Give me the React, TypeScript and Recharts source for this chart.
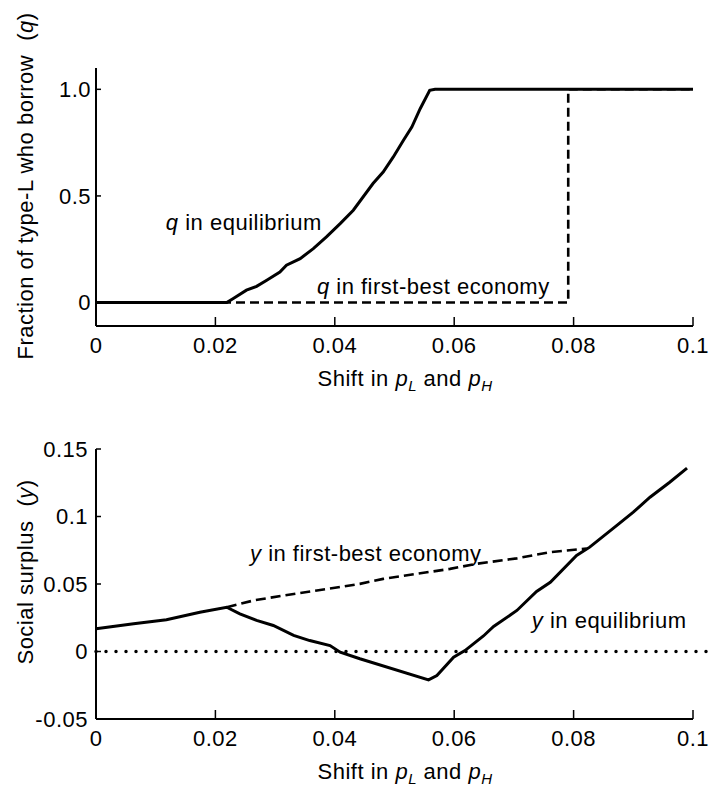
import { LineChart, Line, XAxis, YAxis, ReferenceLine, ReferenceDot, Label } from 'recharts';

const FONT = '"Liberation Sans", Arial, Helvetica, sans-serif';
const FS = 22;

// shared x axis
const xTicks = [0, 0.02, 0.04, 0.06, 0.08, 0.1];
const xTickLabels = ['0', '0.02', '0.04', '0.06', '0.08', '0.1'];

// top panel: fraction of type-L who borrow (q)
const qTicks = [0, 0.5, 1];
const qTickLabels = ['0', '0.5', '1.0'];
const qEqX = [0, 0.0219, 0.023, 0.0252, 0.0269, 0.0286, 0.0308, 0.0319, 0.0342, 0.0364, 0.0386, 0.0409, 0.0431, 0.0464, 0.0481, 0.0498, 0.0515, 0.0529, 0.0543, 0.0559, 0.0568, 0.1];
const qEqY = [0, 0, 0.019, 0.058, 0.076, 0.105, 0.143, 0.175, 0.206, 0.253, 0.308, 0.37, 0.433, 0.558, 0.612, 0.683, 0.761, 0.823, 0.909, 0.995, 1, 1];
const qFbX = [0, 0.0791, 0.0791, 0.1];
const qFbY = [0, 0, 1, 1];

// bottom panel: social surplus (y)
const sTicks = [-0.05, 0, 0.05, 0.1, 0.15];
const sTickLabels = ['-0.05', '0', '0.05', '0.1', '0.15'];
const sEqX = [0, 0.0063, 0.0118, 0.0174, 0.0219, 0.0241, 0.0269, 0.0297, 0.0331, 0.0358, 0.0392, 0.0409, 0.0442, 0.0557, 0.0571, 0.0599, 0.0618, 0.0649, 0.0666, 0.0705, 0.0738, 0.0761, 0.0805, 0.0827, 0.0872, 0.09, 0.0928, 0.0961, 0.099];
const sEqY = [0.0168, 0.0205, 0.0235, 0.0291, 0.0328, 0.0279, 0.023, 0.0193, 0.0119, 0.0081, 0.0044, -0.0005, -0.0054, -0.021, -0.0178, -0.0042, 0.0007, 0.0115, 0.0185, 0.0304, 0.0445, 0.0513, 0.0711, 0.0773, 0.0933, 0.1032, 0.1143, 0.1254, 0.1358];
const sFbX = [0.0219, 0.0264, 0.0314, 0.037, 0.0442, 0.0481, 0.0537, 0.0593, 0.0638, 0.0705, 0.076, 0.0822];
const sFbY = [0.0328, 0.0378, 0.0415, 0.0452, 0.0501, 0.0538, 0.0575, 0.0612, 0.065, 0.069, 0.0736, 0.0762];
const zeroX = [0, 0.1035];

const toPts = (xs: number[], ys: number[]) => xs.map((x, i) => ({ x, y: ys[i] }));

const X_GAP = 11;

function makeXTick() {
  return (props: any) => {
    const { x, y, index } = props;
    const axisY = y - X_GAP;
    return (
      <g>
        <line x1={x} x2={x} y1={axisY} y2={axisY - 9} stroke="#000" strokeWidth={1.5} />
        <text x={x} y={y} dy="0.72em" textAnchor="middle" fontSize={FS} fontFamily={FONT} letterSpacing={0.5} fill="#000">
          {xTickLabels[index]}
        </text>
      </g>
    );
  };
}

function makeYTick(labels: string[], gap: number) {
  return (props: any) => {
    const { x, y, index } = props;
    const axisX = x + gap;
    return (
      <g>
        <line x1={axisX} x2={axisX + 5} y1={y} y2={y} stroke="#000" strokeWidth={1.5} />
        <text x={x} y={y} dy="0.36em" textAnchor="end" fontSize={FS} fontFamily={FONT} letterSpacing={0.5} fill="#000">
          {labels[index]}
        </text>
      </g>
    );
  };
}

const XTitle = ({ y }: { y: number }) => (
  <text x={405} y={y} textAnchor="middle" fontSize={FS} fontFamily={FONT} letterSpacing={0.5} fill="#000">
    {'Shift in '}
    <tspan fontStyle="italic">p</tspan>
    <tspan fontStyle="italic" fontSize={15} dy={5}>L</tspan>
    <tspan dy={-5}>{' and '}</tspan>
    <tspan fontStyle="italic">p</tspan>
    <tspan fontStyle="italic" fontSize={15} dy={5}>H</tspan>
  </text>
);

const YTitle = ({ cy, text, sym }: { cy: number; text: string; sym: string }) => (
  <text
    x={33}
    y={cy}
    transform={`rotate(-90, 33, ${cy})`}
    textAnchor="middle"
    fontSize={FS}
    fontFamily={FONT}
    letterSpacing={0.5}
    fill="#000"
  >
    {text}
    <tspan dx={14}>(</tspan>
    <tspan fontStyle="italic">{sym}</tspan>
    <tspan>)</tspan>
  </text>
);

const note = (sym: string, rest: string) => (props: any) => {
  const vb = props.viewBox || {};
  const x = vb.x + (vb.width || 0) / 2;
  const y = vb.y + (vb.height || 0) / 2;
  return (
    <text x={x} y={y} fontSize={FS} fontFamily={FONT} letterSpacing={0.5} fill="#000">
      <tspan fontStyle="italic">{sym}</tspan>
      <tspan>{rest}</tspan>
    </text>
  );
};

const lineStyle = { stroke: '#000', strokeWidth: 3, dot: false, isAnimationActive: false, type: 'linear' as const };

function TopPanel() {
  return (
    <LineChart width={714} height={400} margin={{ top: 68, right: 21, bottom: 24, left: 0 }}>
      <XAxis
        type="number"
        dataKey="x"
        domain={[0, 0.1]}
        ticks={xTicks}
        interval={0}
        tickSize={0}
        tickMargin={X_GAP}
        tickLine={false}
        tick={makeXTick()}
        axisLine={{ stroke: '#000', strokeWidth: 2 }}
        height={50}
      >
        <Label content={() => <XTitle y={386} />} />
      </XAxis>
      <YAxis
        type="number"
        domain={[-0.11, 1.1]}
        ticks={qTicks}
        interval={0}
        tickSize={0}
        tickMargin={5}
        tickLine={false}
        tick={makeYTick(qTickLabels, 5)}
        axisLine={{ stroke: '#000', strokeWidth: 2 }}
        width={96}
      >
        <Label content={() => <YTitle cy={186} text="Fraction of type-L who borrow" sym="q" />} />
      </YAxis>
      <Line data={toPts(qFbX, qFbY)} dataKey="y" {...lineStyle} strokeWidth={2.6} strokeDasharray="9 5" />
      <Line data={toPts(qEqX, qEqY)} dataKey="y" {...lineStyle} />
      <ReferenceDot x={0.0117} y={0.339} r={0} fill="none" stroke="none" label={{ content: note('q', ' in equilibrium') }} />
      <ReferenceDot x={0.037} y={0.042} r={0} fill="none" stroke="none" label={{ content: note('q', ' in first-best economy') }} />
    </LineChart>
  );
}

function BottomPanel() {
  return (
    <LineChart width={714} height={401} margin={{ top: 59, right: 21, bottom: 22, left: 0 }}>
      <XAxis
        type="number"
        dataKey="x"
        domain={[0, 0.1]}
        ticks={xTicks}
        interval={0}
        tickSize={0}
        tickMargin={X_GAP}
        tickLine={false}
        tick={makeXTick()}
        axisLine={{ stroke: '#000', strokeWidth: 2 }}
        height={50}
      >
        <Label content={() => <XTitle y={389} />} />
      </XAxis>
      <YAxis
        type="number"
        domain={[-0.05, 0.15]}
        ticks={sTicks}
        interval={0}
        tickSize={0}
        tickMargin={8}
        tickLine={false}
        tick={makeYTick(sTickLabels, 8)}
        axisLine={{ stroke: '#000', strokeWidth: 2 }}
        width={96}
      >
        <Label content={() => <YTitle cy={182} text="Social surplus" sym="y" />} />
      </YAxis>
      <ReferenceLine
        segment={[{ x: zeroX[0], y: 0 }, { x: zeroX[1], y: 0 }]}
        ifOverflow="visible"
        stroke="#000"
        strokeWidth={3.5}
        strokeDasharray="0 10"
        strokeLinecap="round"
      />
      <Line data={toPts(sFbX, sFbY)} dataKey="y" {...lineStyle} strokeWidth={2.6} strokeDasharray="10 5" />
      <Line data={toPts(sEqX, sEqY)} dataKey="y" {...lineStyle} />
      <ReferenceDot x={0.0258} y={0.0674} r={0} fill="none" stroke="none" label={{ content: note('y', ' in first-best economy') }} />
      <ReferenceDot x={0.073} y={0.0176} r={0} fill="none" stroke="none" label={{ content: note('y', ' in equilibrium') }} />
    </LineChart>
  );
}

export default function App() {
  return (
    <div style={{ position: 'absolute', left: 0, top: 0, width: 714, height: 791, background: '#fff' }}>
      <div style={{ position: 'absolute', left: 0, top: 0 }}>
        <TopPanel />
      </div>
      <div style={{ position: 'absolute', left: 0, top: 390 }}>
        <BottomPanel />
      </div>
    </div>
  );
}
